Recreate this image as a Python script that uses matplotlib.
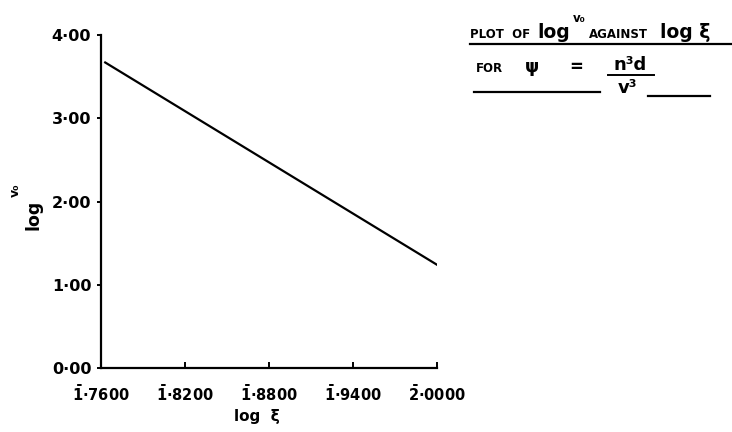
import matplotlib
matplotlib.use("Agg")
import matplotlib.pyplot as plt
from matplotlib.lines import Line2D

plt.rcParams['font.family'] = ['DejaVu Sans']
plt.rcParams['font.weight'] = 'bold'
plt.rcParams['mathtext.default'] = 'bf'

# Data
log_xi = [0.763, 1.000]
log_v0 = [3.67, 1.24]
x_ticks = [0.76, 0.82, 0.88, 0.94, 1.00]
x_tick_labels = [r"$\bar{1}$·7600", r"$\bar{1}$·8200", r"$\bar{1}$·8800",
                 r"$\bar{1}$·9400", r"$\bar{2}$·0000"]
y_ticks = [0, 1, 2, 3, 4]
y_tick_labels = ["0·00", "1·00", "2·00", "3·00", "4·00"]

W, H = 732, 432
fig = plt.figure(figsize=(W / 100, H / 100), dpi=100)
fig.patch.set_facecolor('white')

def fx(px):
    return px / W

def fy(py):
    return 1 - py / H

ax = fig.add_axes([fx(101), fy(368), fx(437) - fx(101), fy(35) - fy(368)])
ax.plot(log_xi, log_v0, color='black', linewidth=1.6)
ax.set_xlim(0.76, 1.00)
ax.set_ylim(0, 4)
for s in ['top', 'right']:
    ax.spines[s].set_visible(False)
for s in ['left', 'bottom']:
    ax.spines[s].set_linewidth(1.6)
ax.set_xticks(x_ticks)
ax.set_xticklabels(x_tick_labels, fontsize=10.5, fontweight='bold')
ax.set_yticks(y_ticks)
ax.set_yticklabels(y_tick_labels, fontsize=11.5, fontweight='bold')
ax.tick_params(axis='x', direction='in', length=4, width=1.4, pad=12)
ax.tick_params(axis='y', direction='out', length=3, width=1.4, pad=4)

# axis labels
fig.text(fx(257), fy(417), "log  ξ", ha='center', va='center', fontsize=11, fontweight='bold')
fig.text(fx(34), fy(215), "log", rotation=90, ha='center', va='center', fontsize=12.5, fontweight='bold')
fig.text(fx(15), fy(190), "v₀", rotation=90, ha='center', va='center', fontsize=9, fontweight='bold')

# title block
fig.text(fx(470), fy(38), "PLOT  OF", ha='left', va='baseline', fontsize=8.5, fontweight='bold')
fig.text(fx(537), fy(38), "log", ha='left', va='baseline', fontsize=13.5, fontweight='bold')
fig.text(fx(573), fy(22), "v₀", ha='left', va='baseline', fontsize=8.5, fontweight='bold')
fig.text(fx(589), fy(38), "AGAINST", ha='left', va='baseline', fontsize=8.5, fontweight='bold')
fig.text(fx(660), fy(38), "log ξ", ha='left', va='baseline', fontsize=13.5, fontweight='bold')
fig.add_artist(Line2D([fx(470), fx(731)], [fy(44), fy(44)], transform=fig.transFigure,
                      color='black', linewidth=1.6))

fig.text(fx(476), fy(72), "FOR", ha='left', va='baseline', fontsize=8.5, fontweight='bold')
fig.text(fx(532), fy(72), "ψ", ha='center', va='baseline', fontsize=13, fontweight='bold')
fig.text(fx(576), fy(72), "=", ha='center', va='baseline', fontsize=12, fontweight='bold')
fig.text(fx(630), fy(70), "n³d", ha='center', va='baseline', fontsize=13, fontweight='bold')
fig.add_artist(Line2D([fx(608), fx(654)], [fy(75), fy(75)], transform=fig.transFigure,
                      color='black', linewidth=1.4))
fig.text(fx(627), fy(93), "v³", ha='center', va='baseline', fontsize=13, fontweight='bold')
fig.add_artist(Line2D([fx(474), fx(600)], [fy(92), fy(92)], transform=fig.transFigure,
                      color='black', linewidth=1.6))
fig.add_artist(Line2D([fx(648), fx(710)], [fy(96), fy(96)], transform=fig.transFigure,
                      color='black', linewidth=1.6))

fig.savefig("out.png", dpi=100, facecolor='white')
